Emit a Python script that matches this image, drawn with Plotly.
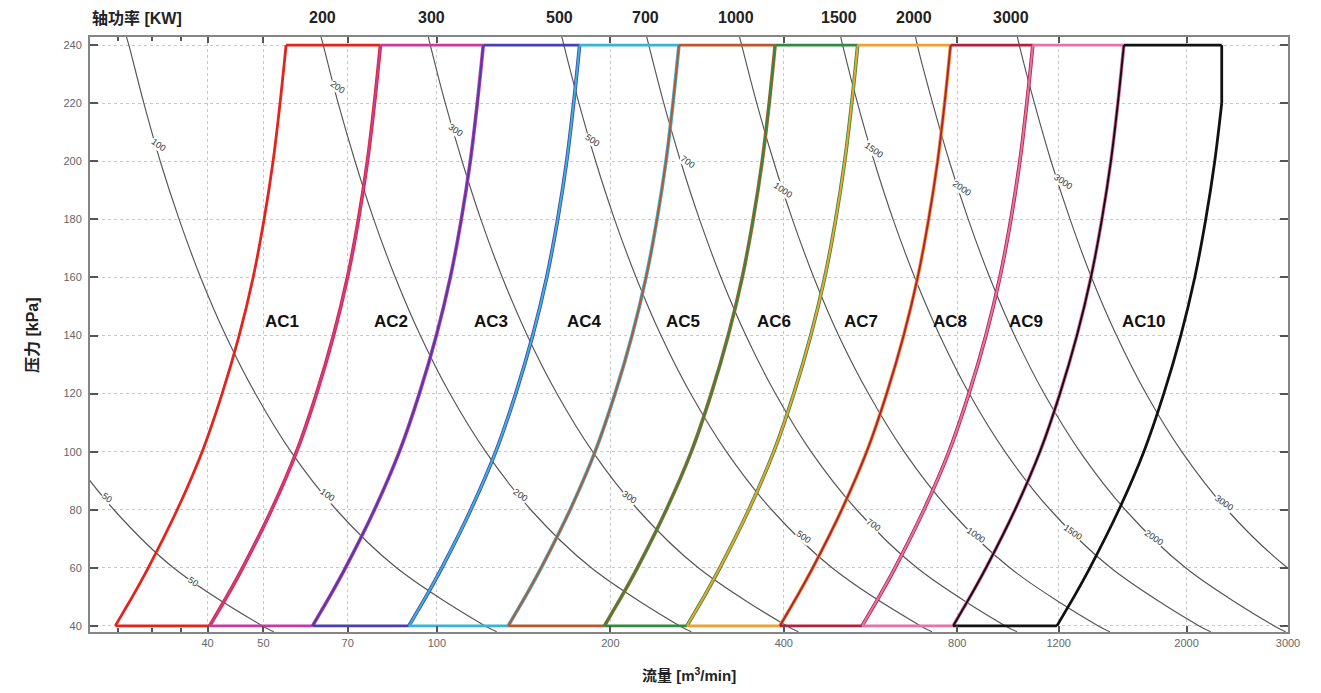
import numpy as np
import plotly.graph_objects as go

# ---------------- data ----------------
# pressure levels (kPa) at which the operating-envelope curves were read
PRESS_ENV = [40, 45, 50, 60, 80, 100, 120, 140, 160, 180, 200, 220, 240]

# flow (m3/min) of each envelope boundary curve at PRESS_ENV
C0 = [27.66, 28.61, 29.60, 31.55, 35.42, 39.14, 42.39, 45.37, 47.98, 50.13, 51.96, 53.43, 54.73]
C1 = [40.33, 41.72, 43.16, 46.01, 51.65, 57.07, 61.81, 66.15, 69.95, 73.09, 75.76, 77.91, 79.80]
C2 = [60.83, 62.93, 65.10, 69.39, 77.91, 86.08, 93.23, 99.78, 105.51, 110.24, 114.28, 117.51, 120.36]
C3 = [89.41, 92.49, 95.69, 102.0, 114.51, 126.52, 137.03, 146.65, 155.08, 162.04, 167.97, 172.72, 176.91]
C4 = [132.97, 137.56, 142.30, 151.68, 170.30, 188.16, 203.79, 218.10, 230.64, 240.98, 249.80, 256.87, 263.10]
C5 = [195.3, 202.0, 209.0, 222.8, 250.1, 276.4, 299.3, 320.3, 338.8, 353.9, 366.9, 377.3, 386.4]
C6 = [271.6, 281.0, 290.7, 309.8, 347.8, 384.3, 416.3, 445.5, 471.1, 492.2, 510.2, 524.7, 537.4]
C7 = [393.7, 407.3, 421.3, 449.1, 504.2, 557.1, 603.4, 645.8, 682.9, 713.5, 739.6, 760.6, 779.0]
C8 = [546.9, 565.8, 585.3, 623.9, 700.4, 773.9, 838.2, 897.1, 948.6, 991.2, 1027.4, 1056.5, 1082.1]
C9 = [786.8, 813.9, 842.0, 897.5, 1007.7, 1113.4, 1205.9, 1290.5, 1364.7, 1425.9, 1478.1, 1520.0, 1556.8]
C10 = [1191.6, 1232.7, 1275.2, 1359.3, 1526.1, 1686.2, 1826.3, 1954.5, 2066.9, 2159.6, 2238.6, 2302.0, 2302.0]
CURVES = [C0, C1, C2, C3, C4, C5, C6, C7, C8, C9, C10]

AC_NAMES = ["AC1", "AC2", "AC3", "AC4", "AC5", "AC6", "AC7", "AC8", "AC9", "AC10"]
AC_COLORS = ["#e3231c", "#c83a9e", "#4a3fb2", "#34b4d8", "#b8582c",
             "#2f8c3c", "#f0a132", "#b3203c", "#e473aa", "#111111"]
AC_LABEL_Q = [53.8, 83.4, 124.3, 180.1, 267.3, 384.4, 544, 776, 1055, 1683]
AC_LABEL_P = 145

# shaft-power iso-lines (kW)
PRESS_POW = [38, 40, 60, 80, 100, 120, 140, 160, 180, 200, 220, 240, 243]
POW_50 = [52.1, 49.8, 34.9, 27.5, 22.9]
POW_100 = [127.0, 121.3, 85.1, 66.9, 55.8, 48.4, 43.0, 38.9, 35.7, 33.1, 31.0, 29.2, 28.9]
POW_200 = [276.4, 264, 185.3, 145.5, 121.5, 105.3, 93.6, 84.7, 77.7, 72.1, 67.4, 63.5, 62.9]
POW_300 = [424, 405, 284.2, 223.3, 186.3, 161.5, 143.5, 129.9, 119.2, 110.6, 103.4, 97.4, 96.6]
POW_500 = [723, 691, 485, 381, 318, 275.6, 244.9, 221.7, 203.4, 188.6, 176.4, 166.1, 164.7]
POW_700 = [1016, 970, 681, 535, 446, 386.8, 343.8, 311.2, 285.6, 264.8, 247.6, 233.2, 231.2]
POW_1000 = [1472, 1406, 987, 775, 647, 561, 498, 451, 414, 384, 359, 338, 335]
POW_1500 = [2203, 2104, 1477, 1160, 968, 839, 746, 675, 619, 574, 537, 506, 502]
POW_2000 = [2972, 2839, 1992, 1565, 1306, 1132, 1006, 911, 836, 775, 725, 682, 677]
POW_3000 = [4465, 4265, 2993, 2351, 1962, 1701, 1512, 1368, 1256, 1164, 1089, 1025, 1017]
POWER_CURVES = [POW_50, POW_100, POW_200, POW_300, POW_500, POW_700,
                POW_1000, POW_1500, POW_2000, POW_3000]

# in-plot labels on power lines: text, flow, pressure
POW_LABEL_TEXT = ["50", "50", "100", "100", "200", "200", "300", "300", "500", "500",
                  "700", "700", "1000", "1000", "1500", "1500", "2000", "2000", "3000", "3000"]
POW_LABEL_Q = [26.8, 37.8, 32.9, 64.6, 67.2, 139.5, 107.6, 215.6, 185.9, 433,
               272.7, 573, 398.5, 861, 573, 1268, 814, 1759, 1223, 2325]
POW_LABEL_P = [84.1, 55.1, 205.6, 85.1, 225.5, 85.1, 210.7, 84.4, 207.3, 70.6,
               199.7, 74.8, 190.1, 71.3, 203.9, 72.4, 190.8, 70.3, 192.8, 82.3]

# top power labels
TOP_LABEL_TEXT = ["200", "300", "500", "700", "1000", "1500", "2000", "3000"]
TOP_LABEL_Q = [63.3, 97.8, 162.9, 230.6, 330.3, 498.2, 672, 989.7]

X_TICKS = [40, 50, 70, 100, 200, 400, 800, 1200, 2000, 3000]
Y_TICKS = [40, 60, 80, 100, 120, 140, 160, 180, 200, 220, 240]
X_RANGE = [25, 3000]
Y_RANGE = [37.9, 242.8]

FONT = "Liberation Sans, Arial, Noto Sans CJK SC, sans-serif"

fig = go.Figure()

# power iso-lines
for q in POWER_CURVES:
    fig.add_trace(go.Scatter(x=q, y=PRESS_POW[:len(q)], mode="lines",
                             line=dict(color="#555555", width=1.15, shape="spline"),
                             hoverinfo="skip", showlegend=False))

# envelope right boundaries first (wide), then left boundaries (narrow) on top
for i in range(10):
    right = CURVES[i + 1]
    if i < 9:
        fig.add_trace(go.Scatter(x=right, y=PRESS_ENV, mode="lines",
                                 line=dict(color=AC_COLORS[i], width=3.6, shape="spline"),
                                 hoverinfo="skip", showlegend=False))
    else:
        fig.add_trace(go.Scatter(x=right[:-1], y=PRESS_ENV[:-1], mode="lines",
                                 line=dict(color=AC_COLORS[i], width=2.8, shape="spline"),
                                 hoverinfo="skip", showlegend=False))
        fig.add_trace(go.Scatter(x=right[-2:], y=PRESS_ENV[-2:], mode="lines",
                                 line=dict(color=AC_COLORS[i], width=2.8),
                                 hoverinfo="skip", showlegend=False))
for i in range(10):
    left, right = CURVES[i], CURVES[i + 1]
    fig.add_trace(go.Scatter(x=[left[0], right[0]], y=[PRESS_ENV[0], PRESS_ENV[0]],
                             mode="lines", line=dict(color=AC_COLORS[i], width=2.8),
                             hoverinfo="skip", showlegend=False))
    fig.add_trace(go.Scatter(x=[left[-1], right[-1]], y=[PRESS_ENV[-1], PRESS_ENV[-1]],
                             mode="lines", line=dict(color=AC_COLORS[i], width=2.8),
                             hoverinfo="skip", showlegend=False))
    fig.add_trace(go.Scatter(x=left, y=PRESS_ENV, mode="lines",
                             line=dict(color=AC_COLORS[i], width=2.0 if i > 0 else 2.8,
                                       shape="spline"),
                             hoverinfo="skip", showlegend=False))

annotations = []
for name, q in zip(AC_NAMES, AC_LABEL_Q):
    annotations.append(dict(x=np.log10(q), y=AC_LABEL_P, xref="x", yref="y",
                            text=f"<b>{name}</b>",
                            showarrow=False, font=dict(family=FONT, size=17, color="#111"),
                            xanchor="center", yanchor="middle"))
for t, q, p in zip(POW_LABEL_TEXT, POW_LABEL_Q, POW_LABEL_P):
    annotations.append(dict(x=np.log10(q), y=p, xref="x", yref="y", text=t,
                            showarrow=False, textangle=35, bgcolor="white", borderpad=0,
                            font=dict(family=FONT, size=9, color="#333"),
                            xanchor="center", yanchor="middle"))
for t, q in zip(TOP_LABEL_TEXT, TOP_LABEL_Q):
    annotations.append(dict(x=np.log10(q), y=1.032, xref="x", yref="paper", text=f"<b>{t}</b>",
                            showarrow=False, font=dict(family=FONT, size=16, color="#222"),
                            xanchor="center", yanchor="middle"))
annotations.append(dict(x=0, y=1.032, xref="paper", yref="paper", text="<b>轴功率 [KW]</b>",
                        showarrow=False, font=dict(family=FONT, size=16, color="#222"),
                        xanchor="left", yanchor="middle"))
annotations.append(dict(x=0.5, y=-0.072, xref="paper", yref="paper",
                        text="<b>流量 [m<sup>3</sup>/min]</b>", showarrow=False,
                        font=dict(family=FONT, size=15, color="#222"),
                        xanchor="center", yanchor="middle"))
annotations.append(dict(x=-0.048, y=0.5, xref="paper", yref="paper",
                        text="<b>压力 [kPa]</b>", showarrow=False, textangle=-90,
                        font=dict(family=FONT, size=16, color="#222"),
                        xanchor="center", yanchor="middle"))

# page body adds an 8 px offset, so size/margins are compensated
fig.update_layout(
    width=1305, height=677,
    margin=dict(l=82, r=25, t=29, b=53),
    paper_bgcolor="white", plot_bgcolor="white",
    font=dict(family=FONT),
    annotations=annotations,
    showlegend=False,
)
fig.update_xaxes(type="log", range=[np.log10(X_RANGE[0]), np.log10(X_RANGE[1])],
                 tickvals=X_TICKS, ticktext=[str(v) for v in X_TICKS],
                 ticks="inside", ticklen=6, tickwidth=1.5, tickcolor="#555",
                 showline=True, linecolor="#858585", linewidth=2, mirror="ticks",
                 showgrid=True, gridcolor="#c8c8c8", griddash="dot", gridwidth=1,
                 zeroline=False, tickfont=dict(family=FONT, size=11, color="#666"),
                 minor=dict(tickvals=[28, 32, 36], ticks="inside", ticklen=4,
                            tickcolor="#555", showgrid=False))
fig.update_yaxes(range=Y_RANGE, tickvals=Y_TICKS,
                 ticks="inside", ticklen=8, tickwidth=2, tickcolor="#555",
                 showline=True, linecolor="#858585", linewidth=2, mirror="ticks",
                 showgrid=True, gridcolor="#c8c8c8", griddash="dot", gridwidth=1,
                 zeroline=False, tickfont=dict(family=FONT, size=11, color="#666"),
                 ticklabelstandoff=4)

fig.write_html("out.html")
